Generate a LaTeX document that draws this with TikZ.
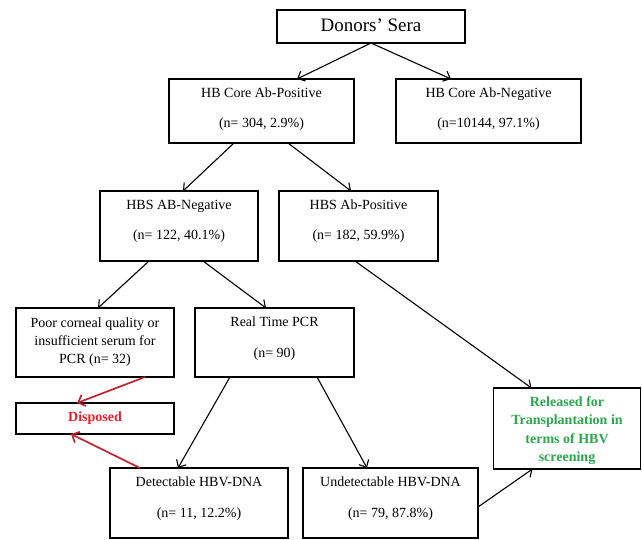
\documentclass[tikz,border=0pt]{standalone}
\usepackage{fontspec}
\setmainfont{Liberation Serif}
\usetikzlibrary{arrows.meta}
\definecolor{disred}{RGB}{232,30,40}
\definecolor{arrred}{RGB}{195,35,45}
\definecolor{relgreen}{RGB}{40,168,75}
\begin{document}
\begin{tikzpicture}[x=1pt,y=-1pt,
  box/.style={draw=black,line width=1.1pt,inner sep=0pt,outer sep=0pt,rectangle},
  txt/.style={anchor=base,inner sep=0pt,font=\fontsize{14}{16}\selectfont},
  conn/.style={line width=1.1pt,-{Straight Barb[length=6pt,width=11pt,line width=1.1pt]}},
  redconn/.style={draw=arrred,line width=1.7pt,-{Straight Barb[length=6pt,width=12pt,line width=1.7pt]}},
  gtxt/.style={anchor=base,inner sep=0pt,font=\bfseries\fontsize{14}{16}\selectfont,text=relgreen}]
\useasboundingbox (0,0) rectangle (642,539);
% boxes
\node[box,minimum width=188pt,minimum height=33pt] (donors) at (371,26.5) {};
\node[box,minimum width=185pt,minimum height=64pt] (pos) at (261.5,111) {};
\node[box,minimum width=185pt,minimum height=64pt] (neg) at (488.5,111) {};
\node[box,minimum width=158pt,minimum height=70pt] (hbsneg) at (179,226) {};
\node[box,minimum width=159pt,minimum height=70pt] (hbspos) at (358.5,226) {};
\node[box,minimum width=158pt,minimum height=69pt] (poor) at (95,342.5) {};
\node[box,minimum width=159pt,minimum height=69pt] (pcr) at (274.5,342.5) {};
\node[box,minimum width=158pt,minimum height=31pt] (disp) at (95,418.5) {};
\node[box,minimum width=147pt,minimum height=81pt] (rel) at (567,428.5) {};
\node[box,minimum width=178pt,minimum height=70pt] (det) at (199,503) {};
\node[box,minimum width=175pt,minimum height=70pt] (undet) at (390.5,503) {};
% texts
\node[anchor=base,inner sep=0pt,font=\fontsize{19}{22}\selectfont] (donorsT) at (371,31) {Donors’ Sera};
\node[txt] (posA) at (261.5,97.5) {HB Core Ab-Positive};
\node[txt] (posB) at (261.5,127.5) {(n= 304, 2.9\%)};
\node[txt] (negA) at (488.5,97.5) {HB Core Ab-Negative};
\node[txt] (negB) at (488.5,127.5) {(n=10144, 97.1\%)};
\node[txt] (hbsnegA) at (179,209) {HBS AB-Negative};
\node[txt] (hbsnegB) at (179,239) {(n= 122, 40.1\%)};
\node[txt] (hbsposA) at (358.5,209) {HBS Ab-Positive};
\node[txt] (hbsposB) at (358.5,239) {(n= 182, 59.9\%)};
\node[txt] (poorA) at (95,327) {Poor corneal quality or};
\node[txt] (poorB) at (95,345) {insufficient serum for};
\node[txt] (poorC) at (95,363) {PCR (n= 32)};
\node[txt] (pcrA) at (274.5,326) {Real Time PCR};
\node[txt] (pcrB) at (274.5,357) {(n= 90)};
\node[txt,font=\bfseries\fontsize{14}{16}\selectfont,text=disred] (dispT) at (95,421) {Disposed};
\node[gtxt] (relA) at (567,406) {Released for};
\node[gtxt] (relB) at (567,424.5) {Transplantation in};
\node[gtxt] (relC) at (567,443) {terms of HBV};
\node[gtxt] (relD) at (567,461) {screening};
\node[txt] (detA) at (199,486) {Detectable HBV-DNA};
\node[txt] (detB) at (199,517) {(n= 11, 12.2\%)};
\node[txt] (undetA) at (390.5,486) {Undetectable HBV-DNA};
\node[txt] (undetB) at (390.5,517) {(n= 79, 87.8\%)};
% connectors
\draw[conn] ([xshift=94pt]donors.south west) -- ([xshift=128pt]pos.north west);
\draw[conn] ([xshift=94pt]donors.south west) -- ([xshift=55pt]neg.north west);
\draw[conn] ([xshift=65pt]pos.south west) -- ([xshift=83pt]hbsneg.north west);
\draw[conn] ([xshift=119pt]pos.south west) -- ([xshift=72pt]hbspos.north west);
\draw[conn] ([xshift=49pt]hbsneg.south west) -- ([xshift=82pt]poor.north west);
\draw[conn] ([xshift=103pt]hbsneg.south west) -- ([xshift=71pt]pcr.north west);
\draw[conn] ([xshift=76pt]hbspos.south west) -- ([xshift=38pt]rel.north west);
\draw[conn] ([xshift=35pt]pcr.south west) -- ([xshift=68pt]det.north west);
\draw[conn] ([xshift=122pt]pcr.south west) -- ([xshift=64pt]undet.north west);
\draw[conn] ([yshift=-39pt]undet.north east) -- ([xshift=39pt]rel.south west);
\draw[redconn] ([xshift=129pt]poor.south west) -- ([xshift=61pt]disp.north west);
\draw[redconn] ([xshift=30pt]det.north west) -- ([xshift=55pt]disp.south west);
\end{tikzpicture}
\end{document}
